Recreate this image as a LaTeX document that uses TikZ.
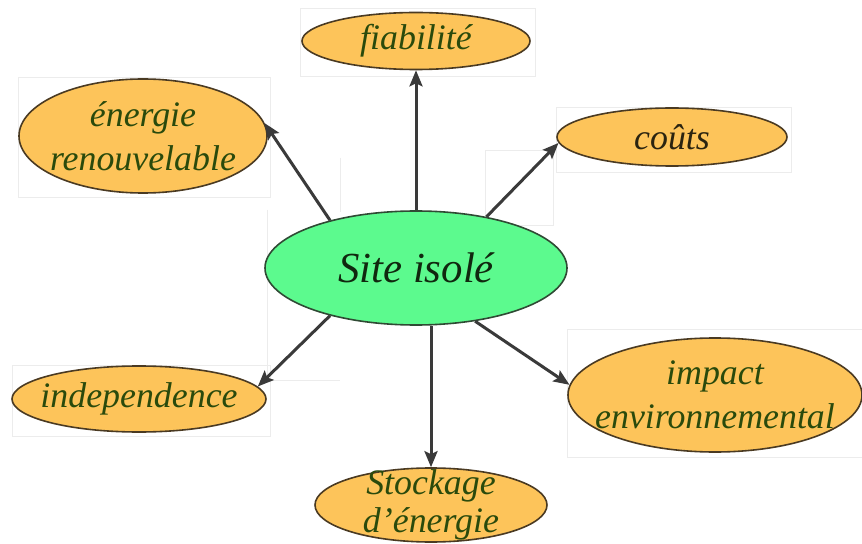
\documentclass[tikz,border=0pt]{standalone}
\usepackage{fontspec}
\setmainfont{Liberation Serif}
\usetikzlibrary{shapes.geometric,arrows.meta}
\definecolor{orfill}{HTML}{FDC45A}
\definecolor{grfill}{HTML}{5CFA8E}
\definecolor{txtgreen}{HTML}{2A4A0C}
\definecolor{txtdark}{HTML}{2B2410}
\definecolor{txtsite}{HTML}{10280F}
\definecolor{edgeor}{HTML}{4A3A22}
\definecolor{edgegr}{HTML}{2F4A34}
\definecolor{arrowc}{HTML}{3A3A3A}
\definecolor{faint}{HTML}{ECECEC}
\begin{document}
\begin{tikzpicture}[x=1bp,y=-1bp,
  bubble/.style={ellipse, draw=edgeor, line width=1.6bp, fill=orfill, inner sep=0pt},
  lbl/.style={align=center, inner sep=0pt, text=txtgreen, font=\fontsize{36}{44}\selectfont\itshape},
  arr/.style={draw=arrowc, line width=3bp, -{Stealth[length=16bp,width=13bp,inset=3bp]}},
  fbox/.style={draw=faint, line width=0.8bp}]
\useasboundingbox[fill=white] (0,0) rectangle (862,544);
% faint frames
\draw[fbox] (300,8) rectangle (535,76);
\draw[fbox] (18,77) rectangle (270,197);
\draw[fbox] (556,107) rectangle (791,172);
\draw[fbox] (12,365) rectangle (270,436);
\draw[fbox] (567,329) rectangle (862,457);
\draw[fbox] (267,210) -- (267,380) -- (340,380);
\draw[fbox] (340,158) -- (340,212);
\draw[fbox] (485,150) rectangle (553,225);
% nodes
\node[bubble, minimum width=228bp, minimum height=57bp,
      label={[lbl]center:fiabilité}] (fiab) at (416,41) {};
\node[bubble, minimum width=248bp, minimum height=114bp,
      label={[lbl]center:énergie\\renouvelable}] (ener) at (143,136) {};
\node[bubble, minimum width=230bp, minimum height=58bp,
      label={[lbl, text=txtdark]center:coûts}] (cout) at (672,137) {};
\node[ellipse, draw=edgegr, line width=1.6bp, fill=grfill, inner sep=0pt,
      minimum width=302bp, minimum height=114bp,
      label={[lbl, text=txtsite, font=\fontsize{43}{50}\selectfont\itshape]center:Site isolé}] (site) at (416,268) {};
\node[bubble, minimum width=254bp, minimum height=66bp,
      label={[lbl]center:independence}] (indep) at (139,399) {};
\node[bubble, minimum width=294bp, minimum height=114bp,
      label={[lbl]center:impact\\environnemental}] (imp) at (715,395) {};
\node[bubble, minimum width=232bp, minimum height=74bp,
      label={[lbl, font=\fontsize{36}{38}\selectfont\itshape]center:Stockage\\d’énergie}] (stock) at (431,505) {};
% connectors
\draw[arr] (site) -- (fiab);
\draw[arr] (site.151) -- (ener.6);
\draw[arr] (site.36) -- (cout.183);
\draw[arr] (site.209) -- (indep.6);
\draw[arr] (site.-42) -- (imp.176);
\draw[arr] (site.south -| stock.north) -- (stock.north);
\end{tikzpicture}
\end{document}
